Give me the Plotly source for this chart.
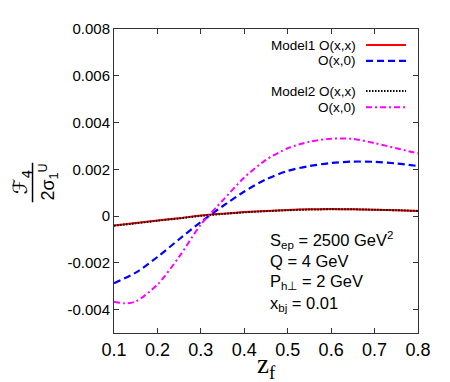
import plotly.graph_objects as go

# ---- data ----
z_f = [0.10, 0.15, 0.20, 0.25, 0.30, 0.35, 0.40, 0.45, 0.50, 0.55, 0.60, 0.65, 0.70, 0.75, 0.80]

model1_oxx = [-0.00040, -0.00030, -0.00019, -0.00009, 0.00002, 0.00010, 0.00017, 0.00022,
              0.00026, 0.00029, 0.00030, 0.00029, 0.00027, 0.00025, 0.00022]
model1_ox0 = [-0.00287, -0.00242, -0.00175, -0.00099, -0.00025, 0.00042, 0.00105, 0.00157,
              0.00193, 0.00214, 0.00227, 0.00233, 0.00232, 0.00225, 0.00214]
model2_oxx = [-0.00041, -0.00031, -0.00020, -0.00010, 0.00001, 0.00009, 0.00016, 0.00021,
              0.00025, 0.00028, 0.00029, 0.00029, 0.00027, 0.00025, 0.00022]
z_f_m2 = [0.10, 0.125, 0.15, 0.20, 0.25, 0.30, 0.35, 0.40, 0.45, 0.50, 0.55, 0.60, 0.65, 0.70, 0.75, 0.80]
model2_ox0 = [-0.00366, -0.00373, -0.00365, -0.00293, -0.00174, -0.00036, 0.00066, 0.00165,
              0.00240, 0.00290, 0.00318, 0.00331, 0.00330, 0.00312, 0.00290, 0.00268]

x_tickvals = [0.1, 0.2, 0.3, 0.4, 0.5, 0.6, 0.7, 0.8]
x_ticktext = ["0.1", "0.2", "0.3", "0.4", "0.5", "0.6", "0.7", "0.8"]
y_tickvals = [-0.004, -0.002, 0.0, 0.002, 0.004, 0.006, 0.008]
y_ticktext = ["-0.004", "-0.002", "0", "0.002", "0.004", "0.006", "0.008"]

legend_labels = ["Model1 O(x,x)", "O(x,0)", "Model2 O(x,x)", "O(x,0)"]
param_lines = ["S<sub>ep</sub> = 2500 GeV<sup>2</sup>", "Q = 4 GeV",
               "P<sub>h\u22a5</sub> = 2 GeV", "x<sub>bj</sub> = 0.01"]

# ---- styles ----
styles = [
    dict(color="#ff0000", width=2, dash="solid"),
    dict(color="#0000ff", width=2.2, dash="7px,4px"),
    dict(color="#000000", width=2, dash="1.5px,1.5px"),
    dict(color="#ff00ff", width=2, dash="6px,3px,2px,3px"),
]

fig = go.Figure()
series = [(z_f, model1_oxx), (z_f, model1_ox0), (z_f, model2_oxx), (z_f_m2, model2_ox0)]
for (xs, ys), st, name in zip(series, styles, legend_labels):
    fig.add_trace(go.Scatter(x=xs, y=ys, mode="lines", line=dict(shape="spline", smoothing=0.8, **st),
                             name=name, showlegend=False))

FONT = "Liberation Sans, Arial, sans-serif"

annotations = []
shapes = []
# manual legend (text at left, sample at right)
leg_y = [0.947, 0.895, 0.796, 0.743]
for lab, st, yy in zip(legend_labels, styles, leg_y):
    annotations.append(dict(x=0.8026, y=yy, xref="paper", yref="paper", text=lab, showarrow=False,
                            xanchor="right", yanchor="middle", font=dict(family=FONT, size=13.5, color="black")))
    shapes.append(dict(type="line", xref="paper", yref="paper", x0=0.829, x1=0.9605, y0=yy, y1=yy,
                       line=dict(color=st["color"], width=st["width"], dash=st["dash"])))

# parameter text
par_y = [0.306, 0.237, 0.168, 0.094]
for t, yy in zip(param_lines, par_y):
    annotations.append(dict(x=0.5066, y=yy, xref="paper", yref="paper", text=t, showarrow=False,
                            xanchor="left", yanchor="middle", font=dict(family=FONT, size=16.5, color="black")))

# y-axis title as a fraction
annotations.append(dict(x=-0.305, y=0.497, xref="paper", yref="paper", text="\u2131<sub>4</sub>",
                        showarrow=False, textangle=-90, xanchor="center", yanchor="middle",
                        font=dict(family="DejaVu Sans, sans-serif", size=20, color="black")))
annotations.append(dict(x=-0.215, y=0.497, xref="paper", yref="paper", text="2\u03c3<sub>1</sub><sup>U</sup>",
                        showarrow=False, textangle=-90, xanchor="center", yanchor="middle",
                        font=dict(family="Liberation Sans, sans-serif", size=18, color="black")))
shapes.append(dict(type="line", xref="paper", yref="paper", x0=-0.268, x1=-0.268, y0=0.43, y1=0.56,
                   line=dict(color="black", width=1.5)))

# x-axis title
annotations.append(dict(x=0.5, y=-0.11, xref="paper", yref="paper", text="z<sub>f</sub>", showarrow=False,
                        xanchor="center", yanchor="middle",
                        font=dict(family="Liberation Serif, Times New Roman, serif", size=27, color="black")))

axis_common = dict(showgrid=False, zeroline=False, showline=True, linecolor="#333333", linewidth=1,
                   mirror="ticks", ticks="inside", ticklen=5, tickcolor="#333333", tickwidth=1)

# page body has an 8px default margin: size the figure so the plot area lands at the reference position
fig.update_layout(
    width=442, height=374,
    margin=dict(l=106, r=32, t=13, b=49),
    paper_bgcolor="white", plot_bgcolor="white",
    xaxis=dict(range=[0.1, 0.8], tickvals=x_tickvals, ticktext=x_ticktext,
               tickfont=dict(family=FONT, size=18, color="black"), **axis_common),
    yaxis=dict(range=[-0.005, 0.008], tickvals=y_tickvals, ticktext=y_ticktext,
               tickfont=dict(family=FONT, size=15, color="black"), **axis_common),
    annotations=annotations, shapes=shapes, showlegend=False,
)

fig.write_html("out.html")
